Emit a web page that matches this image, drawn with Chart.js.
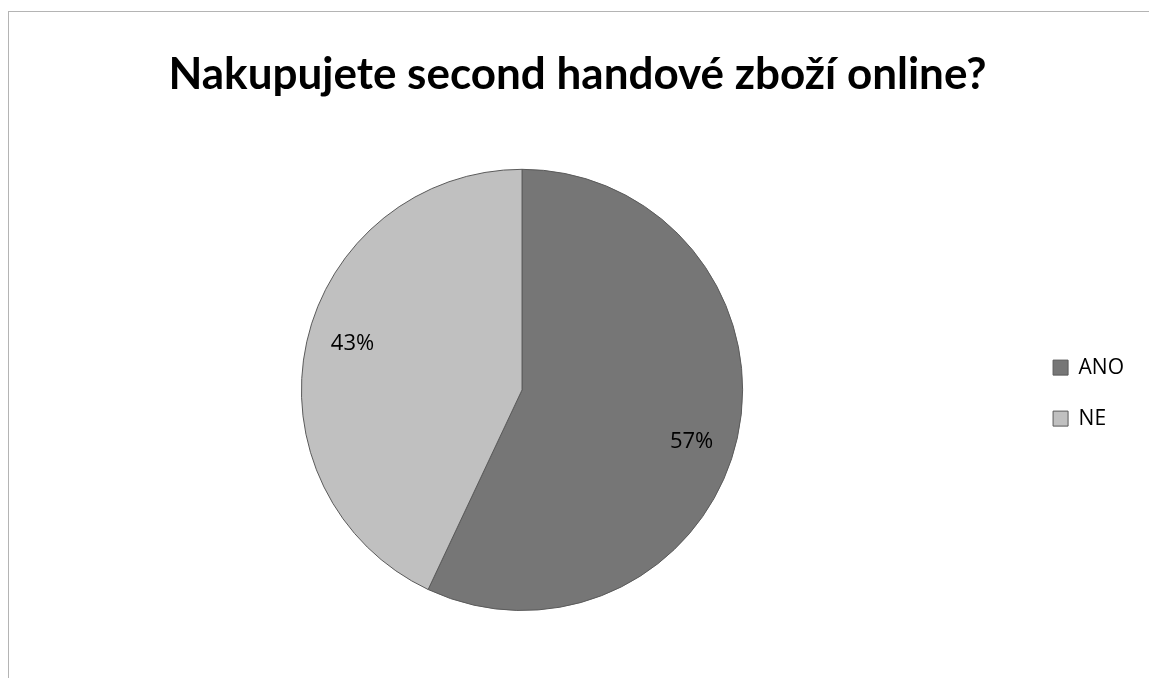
<!DOCTYPE html>
<html>
<head>
<meta charset="utf-8">
<script src="https://cdn.jsdelivr.net/npm/chart.js@4.4.0/dist/chart.umd.min.js"></script>
<style>
  html, body { margin: 0; padding: 0; background: #fff; overflow: hidden; }
  #wrap {
    position: absolute; left: 8px; top: 11px;
    width: 1141px; height: 667px;
    border-left: 1px solid #b4b4b4; border-top: 1px solid #b4b4b4;
  }
  #mychart { display: block; }
</style>
</head>
<body>
<div id="wrap"><canvas id="mychart" width="1141" height="667"></canvas></div>
<script>
const titulo = 'Nakupujete second handové zboží online?';
const kategorie = ['ANO', 'NE'];
const hodnoty = [57, 43];
const barvy = ['#767676', '#c0c0c0'];

// popisky procent uvnitr vysecí
const popisky = {
    id: 'popisky',
    afterDatasetsDraw(chart) {
        const ctx = chart.ctx;
        const meta = chart.getDatasetMeta(0);
        ctx.save();
        ctx.font = '22px "Open Sans", sans-serif';
        ctx.fillStyle = '#000';
        ctx.textAlign = 'center';
        ctx.textBaseline = 'middle';
        meta.data.forEach((arc, i) => {
            const p = arc.getProps(['x', 'y', 'startAngle', 'endAngle', 'outerRadius'], true);
            const mid = (p.startAngle + p.endAngle) / 2 + 3.5 * Math.PI / 180;
            const r = p.outerRadius * 0.8;
            ctx.fillText(hodnoty[i] + '%', p.x + Math.cos(mid) * r, p.y + Math.sin(mid) * r + 3);
        });
        ctx.restore();
    }
};

const canvas = document.getElementById('mychart');
const graf = new Chart(canvas, {
    type: 'pie',
    data: {
        labels: kategorie,
        datasets: [{
            data: hodnoty,
            backgroundColor: barvy,
            borderColor: '#5a5a5a',
            borderWidth: 1
        }]
    },
    options: {
        responsive: false,
        animation: false,
        layout: { padding: { left: 12, right: 16, top: 0, bottom: 68 } },
        plugins: {
            title: {
                display: true,
                text: titulo,
                color: '#000',
                font: { family: 'Lato', size: 44, weight: 'bold', lineHeight: 1.2 },
                padding: { top: 36, bottom: 68 }
            },
            legend: {
                position: 'right',
                title: { display: true, text: ' ', font: { size: 1 }, padding: { top: 0, bottom: 162 } },
                labels: {
                    color: '#000',
                    font: { family: '"Open Sans"', size: 21 },
                    boxWidth: 15,
                    boxHeight: 15,
                    padding: 30
                }
            },
            tooltip: { enabled: false }
        }
    },
    plugins: [popisky]
});
</script>
</body>
</html>
